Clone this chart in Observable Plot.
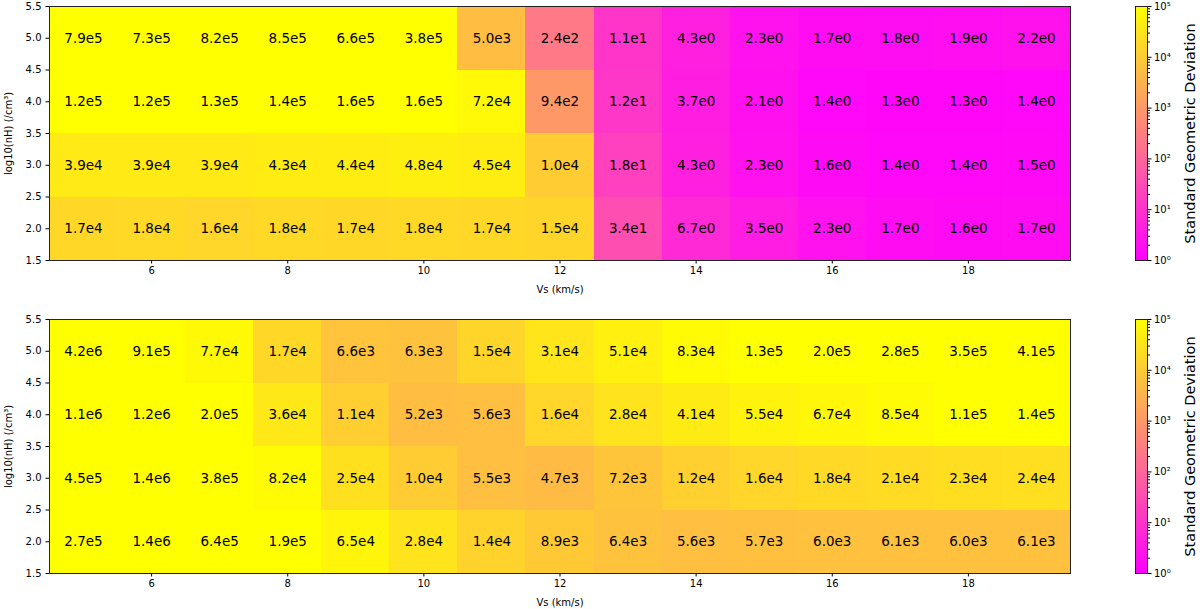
<!DOCTYPE html>
<html><head><meta charset="utf-8">
<script src="https://cdn.jsdelivr.net/npm/d3@7"></script>
<script src="https://cdn.jsdelivr.net/npm/@observablehq/plot@0.6"></script>
<style>
html,body{margin:0;padding:0;background:#fff;}
#root{position:relative;width:1200px;height:609px;overflow:hidden;font-family:"DejaVu Sans";}
#root > div{position:absolute;}
</style></head><body><div id="root"></div>
<script>
// ---- data ----
const vs = [5,6,7,8,9,10,11,12,13,14,15,16,17,18,19];
const log10nH = [5,4,3,2];
const topValues = [
  [7.9e5,7.3e5,8.2e5,8.5e5,6.6e5,3.8e5,5.0e3,2.4e2,1.1e1,4.3e0,2.3e0,1.7e0,1.8e0,1.9e0,2.2e0],
  [1.2e5,1.2e5,1.3e5,1.4e5,1.6e5,1.6e5,7.2e4,9.4e2,1.2e1,3.7e0,2.1e0,1.4e0,1.3e0,1.3e0,1.4e0],
  [3.9e4,3.9e4,3.9e4,4.3e4,4.4e4,4.8e4,4.5e4,1.0e4,1.8e1,4.3e0,2.3e0,1.6e0,1.4e0,1.4e0,1.5e0],
  [1.7e4,1.8e4,1.6e4,1.8e4,1.7e4,1.8e4,1.7e4,1.5e4,3.4e1,6.7e0,3.5e0,2.3e0,1.7e0,1.6e0,1.7e0]
];
const bottomValues = [
  [4.2e6,9.1e5,7.7e4,1.7e4,6.6e3,6.3e3,1.5e4,3.1e4,5.1e4,8.3e4,1.3e5,2.0e5,2.8e5,3.5e5,4.1e5],
  [1.1e6,1.2e6,2.0e5,3.6e4,1.1e4,5.2e3,5.6e3,1.6e4,2.8e4,4.1e4,5.5e4,6.7e4,8.5e4,1.1e5,1.4e5],
  [4.5e5,1.4e6,3.8e5,8.2e4,2.5e4,1.0e4,5.5e3,4.7e3,7.2e3,1.2e4,1.6e4,1.8e4,2.1e4,2.3e4,2.4e4],
  [2.7e5,1.4e6,6.4e5,1.9e5,6.5e4,2.8e4,1.4e4,8.9e3,6.4e3,5.6e3,5.7e3,6.0e3,6.1e3,6.0e3,6.1e3]
];
const xTicks = [6,8,10,12,14,16,18];
const yTicks = [1.5,2.0,2.5,3.0,3.5,4.0,4.5,5.0,5.5];
const cbTicks = [1,10,100,1000,10000,100000];
const cbMinorTicks = [2,3,4,5,6,7,8,9,20,30,40,50,60,70,80,90,200,300,400,500,600,700,800,900,2000,3000,4000,5000,6000,7000,8000,9000,20000,30000,40000,50000,60000,70000,80000,90000];
const xLabel = "Vs (km/s)";
const yLabel = "log10(nH) (/cm³)";
const cbLabel = "Standard Geometric Deviation";
const sup = ["⁰","¹","²","³","⁴","⁵"];

// ---- helpers ----
const fmt = v => d3.format(".1e")(v).replace("e+", "e");
const colorScale = {type: "log", domain: [1, 1e5], range: ["#ff00ff", "#ffff00"], interpolate: "rgb", clamp: true};
const baseStyle = {fontFamily: "DejaVu Sans", fontSize: "10px", background: "white", overflow: "visible", color: "#000"};

function table(rows) {
  return rows.flatMap((row, i) => row.map((v, j) => ({vs: vs[j], nh: log10nH[i], v})));
}

function panel(rows, height, marginBottom) {
  const data = table(rows);
  return Plot.plot({
    width: 1110, height, marginTop: 6, marginBottom, marginLeft: 49, marginRight: 40,
    style: baseStyle,
    x: {domain: [4.5, 19.5]},
    y: {domain: [1.5, 5.5]},
    color: colorScale,
    marks: [
      Plot.rect(data, {x1: d => d.vs - 0.5, x2: d => d.vs + 0.5, y1: d => d.nh - 0.5, y2: d => d.nh + 0.5, fill: "v", shapeRendering: "crispEdges"}),
      Plot.text(data, {x: "vs", y: "nh", text: d => fmt(d.v), fontSize: 13.5, fill: "#000"}),
      Plot.frame({stroke: "#222", strokeWidth: 1}),
      Plot.axisX({ticks: xTicks, tickSize: 3.5, tickPadding: 3, label: null}),
      Plot.axisY({ticks: yTicks, tickSize: 3.5, tickPadding: 4.5, tickFormat: d3.format(".1f"), label: null}),
      Plot.text([xLabel], {text: d => d, frameAnchor: "bottom", dy: 29, fontSize: 10, lineAnchor: "middle", textAnchor: "middle"}),
      Plot.text([yLabel], {text: d => d, frameAnchor: "left", rotate: -90, dx: -41, fontSize: 10, textAnchor: "middle", lineAnchor: "middle"})
    ]
  });
}

function colorbar(height, marginBottom) {
  const steps = d3.range(0, 500).map(i => i / 100); // gradient exponents for the legend ramp
  return Plot.plot({
    width: 100, height, marginTop: 6, marginBottom, marginLeft: 35, marginRight: 53,
    style: baseStyle,
    x: {domain: [0, 1], axis: null},
    y: {type: "log", domain: [1, 1e5]},
    color: colorScale,
    marks: [
      Plot.rect(steps, {x1: 0, x2: 1, y1: e => 10 ** e, y2: e => 10 ** (e + 0.01), fill: e => 10 ** (e + 0.005), shapeRendering: "crispEdges"}),
      Plot.frame({stroke: "#222", strokeWidth: 1}),
      Plot.axisY({anchor: "right", ticks: cbMinorTicks, tickSize: 2, tickFormat: () => "", label: null}),
      Plot.axisY({anchor: "right", ticks: cbTicks, tickSize: 3.5, tickPadding: 3, tickFormat: d => "10" + sup[Math.round(Math.log10(d))], label: null}),
      Plot.text([cbLabel], {text: d => d, frameAnchor: "right", rotate: -90, dx: 43, fontSize: 14.5, textAnchor: "middle", lineAnchor: "middle"})
    ]
  });
}

function place(node, left, top) {
  const div = document.createElement("div");
  div.style.left = left + "px";
  div.style.top = top + "px";
  div.appendChild(node);
  document.getElementById("root").appendChild(div);
}

place(panel(topValues, 300, 40), 0, 0);
place(colorbar(300, 40), 1100, 0);
place(panel(bottomValues, 296, 36), 0, 313);
place(colorbar(296, 36), 1100, 313);
</script>
</body></html>
